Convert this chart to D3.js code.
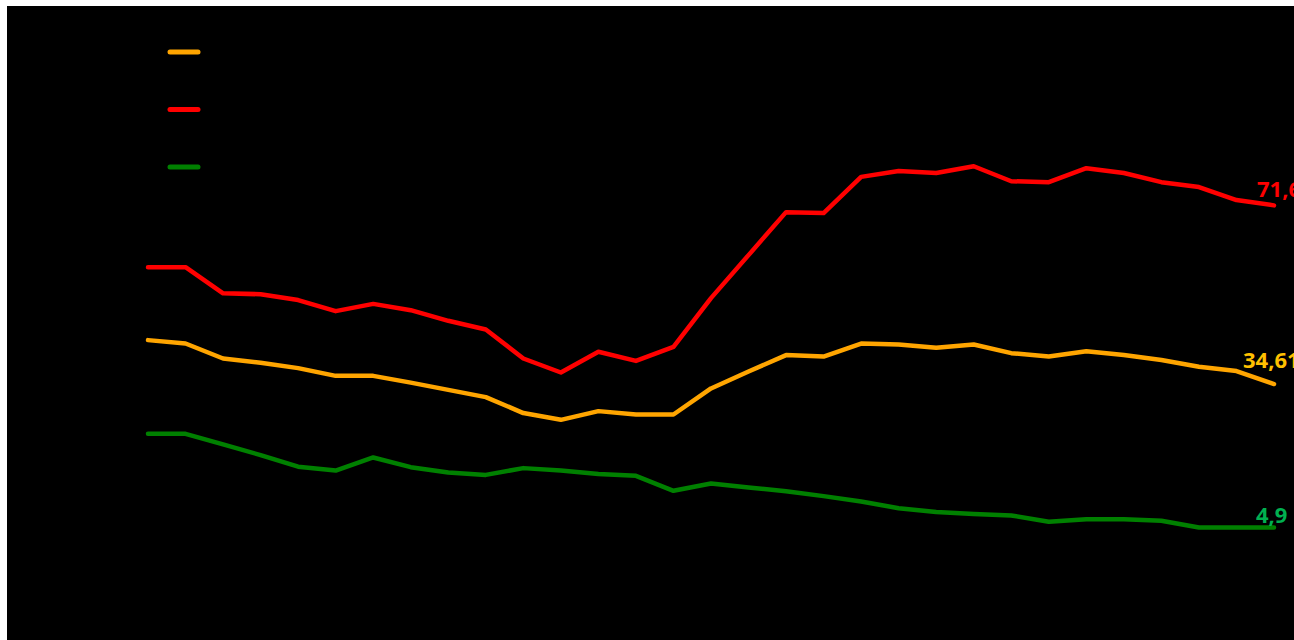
<!DOCTYPE html>
<html>
<head>
<meta charset="utf-8">
<script src="https://cdn.jsdelivr.net/npm/d3@7/dist/d3.min.js"></script>
<style>
  html, body { margin: 0; padding: 0; background: #ffffff; }
  svg { display: block; }
</style>
</head>
<body>
<svg id="chart" width="1294" height="640"></svg>
<script>
// ---- data ----
const categories = d3.range(1, 32).map(String); // 31 periods (labels not visible)

const seriesRed = [58.8, 58.8, 53.4, 53.2, 52.0, 49.7, 51.2, 49.9, 47.7, 45.9,
  39.9, 37.0, 41.3, 39.4, 42.3, 52.4, 61.3, 70.2, 70.0, 77.5,
  78.7, 78.3, 79.7, 76.6, 76.4, 79.3, 78.3, 76.4, 75.4, 72.7, 71.6];

const seriesOrange = [43.7, 43.0, 39.9, 39.0, 37.9, 36.3, 36.3, 34.9, 33.4, 31.9,
  28.6, 27.2, 29.0, 28.3, 28.3, 33.7, 37.2, 40.6, 40.3, 43.0,
  42.8, 42.1, 42.8, 41.0, 40.3, 41.4, 40.6, 39.6, 38.2, 37.3, 34.61];

const seriesGreen = [24.3, 24.3, 22.1, 19.9, 17.5, 16.7, 19.4, 17.4, 16.3, 15.8,
  17.2, 16.7, 16.0, 15.6, 12.5, 14.0, 13.2, 12.4, 11.4, 10.3,
  8.9, 8.1, 7.7, 7.4, 6.1, 6.6, 6.6, 6.3, 4.9, 4.9, 4.9];

const endLabels = ["71,6", "34,61", "4,9"];

// ---- layout ----
const svg = d3.select("#chart");
const W = 1294, H = 640;

svg.append("rect")
  .attr("x", 7).attr("y", 6)
  .attr("width", W - 7).attr("height", H - 6)
  .attr("fill", "#000000");

const x = d3.scalePoint().domain(categories).range([148, 1274]);
const y = d3.scaleLinear().domain([0, 80]).range([551.2, 551.2 - 80 * 4.83]);

const series = [
  { values: seriesOrange, color: "#FFA500", labelColor: "#FFC000", label: endLabels[1], dx: -31, dy: -16 },
  { values: seriesRed,    color: "#FF0000", labelColor: "#FF0000", label: endLabels[0], dx: -17, dy: -8 },
  { values: seriesGreen,  color: "#008000", labelColor: "#00B050", label: endLabels[2], dx: -18, dy: -5 }
];

const line = d3.line()
  .x((d, i) => x(categories[i]))
  .y(d => y(d));

const g = svg.append("g");

series.forEach(s => {
  g.append("path")
    .datum(s.values)
    .attr("d", line)
    .attr("fill", "none")
    .attr("stroke", s.color)
    .attr("stroke-width", 4.5)
    .attr("stroke-linejoin", "round")
    .attr("stroke-linecap", "round");
});

series.forEach(s => {
  const last = s.values.length - 1;
  g.append("text")
    .attr("x", x(categories[last]) + s.dx)
    .attr("y", y(s.values[last]) + s.dy)
    .attr("fill", s.labelColor)
    .attr("font-family", "'Open Sans', 'DejaVu Sans', sans-serif")
    .attr("font-weight", "bold")
    .attr("font-size", 22)
    .text(s.label);
});

// ---- legend (symbols only; legend text is not visible) ----
const legendOrder = [series[0], series[1], series[2]];
const legendY = d3.scalePoint().domain([0, 1, 2]).range([52, 167]);
svg.append("g").selectAll("line")
  .data(legendOrder)
  .join("line")
  .attr("x1", 170).attr("x2", 198)
  .attr("y1", (d, i) => legendY(i))
  .attr("y2", (d, i) => legendY(i))
  .attr("stroke", d => d.color)
  .attr("stroke-width", 5)
  .attr("stroke-linecap", "round");
</script>
</body>
</html>
